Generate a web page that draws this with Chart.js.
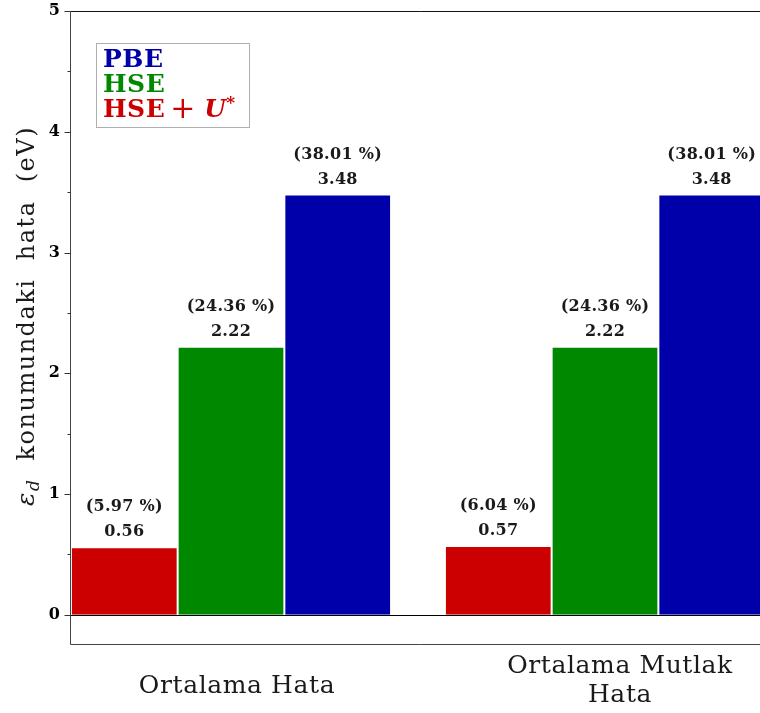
<!DOCTYPE html>
<html>
<head>
<meta charset="utf-8">
<script src="https://cdn.jsdelivr.net/npm/chart.js@4.4.1/dist/chart.umd.min.js"></script>
<style>
  html, body { margin: 0; padding: 0; background: #fff; overflow: hidden; }
  #wrap { position: absolute; left: 0; top: 0; width: 800px; height: 713px; }
</style>
</head>
<body>
<div id="wrap"><canvas id="errChart" width="800" height="713"></canvas></div>
<script>
// data
const groupLabels = [['Ortalama Hata'], ['Ortalama Mutlak', 'Hata']];
const groupPos = [0, 1];
const hseUVals = [0.56, 0.57];
const hseUPct = [5.97, 6.04];
const hseVals = [2.22, 2.22];
const hsePct = [24.36, 24.36];
const pbeVals = [3.48, 3.48];
const pbePct = [38.01, 38.01];
const yMajor = [0, 1, 2, 3, 4, 5];
const yMinor = [0.5, 1.5, 2.5, 3.5, 4.5];

const RED = '#cc0000', GREEN = '#008800', BLUE = '#0000aa';
const serif = '"DejaVu Serif", "Liberation Serif", serif';

const toPoints = vals => vals.map((v, i) => ({ x: groupPos[i], y: v }));

// zero line, frame and tick marks
const frame = {
  id: 'frame',
  beforeDatasetsDraw(chart) {
    const { ctx, chartArea: a, scales: { y } } = chart;
    const y0 = Math.round(y.getPixelForValue(0)) + 0.5;
    ctx.save();
    ctx.strokeStyle = '#000';
    ctx.lineWidth = 1;
    ctx.beginPath();
    ctx.moveTo(a.left, y0);
    ctx.lineTo(a.right, y0);
    ctx.stroke();
    ctx.restore();
  },
  afterDatasetsDraw(chart) {
    const { ctx, chartArea: a, scales: { y } } = chart;
    const l = Math.round(a.left) - 0.5, t = Math.round(a.top) + 0.5, b = Math.round(a.bottom) - 0.5;
    ctx.save();
    ctx.lineWidth = 1;
    ctx.strokeStyle = '#111';
    ctx.beginPath(); ctx.moveTo(l, t); ctx.lineTo(a.right + 5, t); ctx.stroke();
    ctx.strokeStyle = '#444';
    ctx.beginPath(); ctx.moveTo(l, t); ctx.lineTo(l, b); ctx.lineTo(a.right + 5, b); ctx.stroke();
    ctx.strokeStyle = '#333';
    yMajor.forEach(v => {
      const p = Math.round(y.getPixelForValue(v)) + 0.5;
      ctx.beginPath(); ctx.moveTo(l - 6, p); ctx.lineTo(l, p); ctx.stroke();
    });
    yMinor.forEach(v => {
      const p = Math.round(y.getPixelForValue(v)) + 0.5;
      ctx.beginPath(); ctx.moveTo(l - 3, p); ctx.lineTo(l, p); ctx.stroke();
    });
    ctx.restore();
  }
};

// value and percentage above each bar
const barNotes = {
  id: 'barNotes',
  afterDatasetsDraw(chart) {
    const { ctx } = chart;
    ctx.save();
    ctx.font = 'bold 16px ' + serif;
    ctx.letterSpacing = '0.3px';
    ctx.fillStyle = '#1a1a1a';
    ctx.textAlign = 'center';
    ctx.textBaseline = 'middle';
    chart.data.datasets.forEach((ds, d) => {
      chart.getDatasetMeta(d).data.forEach((bar, i) => {
        const v = ds.data[i].y;
        ctx.fillText(v.toFixed(2), bar.x, bar.y - 15);
        ctx.fillText('(' + ds.pct[i].toFixed(2) + ' %)', bar.x, bar.y - 40);
      });
    });
    ctx.restore();
  }
};

// category labels under the axis
const groupNames = {
  id: 'groupNames',
  afterDraw(chart) {
    const { ctx, scales: { x } } = chart;
    const nudge = [6, 15];
    ctx.save();
    ctx.font = '25px ' + serif;
    ctx.letterSpacing = '0.6px';
    ctx.fillStyle = '#1a1a1a';
    ctx.textAlign = 'center';
    ctx.textBaseline = 'alphabetic';
    groupLabels.forEach((lines, i) => {
      const cx = x.getPixelForValue(groupPos[i]) + nudge[i];
      const base = lines.length === 1 ? 693 : 673;
      lines.forEach((s, k) => ctx.fillText(s, cx, base + k * 29));
    });
    ctx.restore();
  }
};

// y axis title with epsilon_d
const yTitle = {
  id: 'yTitle',
  afterDraw(chart) {
    const { ctx } = chart;
    const parts = [
      { t: '\u03b5', f: 'italic 25px ' + serif, dy: 0 },
      { t: 'd', f: 'italic 17px ' + serif, dy: 5 },
      { t: '  konumundaki  hata  (eV)', f: '24px ' + serif, dy: 0 }
    ];
    ctx.save();
    ctx.letterSpacing = '1.5px';
    let total = 0;
    parts.forEach(p => { ctx.font = p.f; p.w = ctx.measureText(p.t).width; total += p.w; });
    ctx.translate(34, 316);
    ctx.rotate(-Math.PI / 2);
    ctx.fillStyle = '#1a1a1a';
    ctx.textBaseline = 'alphabetic';
    let xx = -total / 2;
    parts.forEach(p => { ctx.font = p.f; ctx.fillText(p.t, xx, p.dy); xx += p.w; });
    ctx.restore();
  }
};

// legend box: text only, coloured
const legendBox = {
  id: 'legendBox',
  afterDraw(chart) {
    const { ctx } = chart;
    ctx.save();
    ctx.fillStyle = 'rgba(255,255,255,0.9)';
    ctx.fillRect(96.5, 43.5, 153, 84);
    ctx.strokeStyle = '#b0b0b0';
    ctx.lineWidth = 1;
    ctx.strokeRect(96.5, 43.5, 153, 84);
    ctx.textBaseline = 'alphabetic';
    ctx.letterSpacing = '0.5px';
    ctx.font = 'bold 25px ' + serif;
    ctx.fillStyle = BLUE;
    ctx.fillText('PBE', 103, 67);
    ctx.fillStyle = GREEN;
    ctx.fillText('HSE', 103, 92);
    ctx.fillStyle = RED;
    let xx = 103;
    ctx.fillText('HSE', xx, 117); xx += ctx.measureText('HSE').width + 5;
    ctx.letterSpacing = '0px';
    ctx.font = '30px ' + serif;
    ctx.fillText('+', xx, 118); xx += ctx.measureText('+').width + 9;
    ctx.font = 'italic bold 25px ' + serif;
    ctx.fillText('U', xx, 117); xx += ctx.measureText('U').width;
    ctx.font = 'bold 17px ' + serif;
    ctx.fillText('*', xx, 108);
    ctx.restore();
  }
};

new Chart(document.getElementById('errChart'), {
  type: 'bar',
  data: {
    datasets: [
      { label: 'HSE + U*', data: toPoints(hseUVals), pct: hseUPct, backgroundColor: RED },
      { label: 'HSE', data: toPoints(hseVals), pct: hsePct, backgroundColor: GREEN },
      { label: 'PBE', data: toPoints(pbeVals), pct: pbePct, backgroundColor: BLUE }
    ]
  },
  options: {
    responsive: false,
    animation: false,
    events: [],
    layout: { padding: { left: 0, top: 11, right: 35, bottom: 68 } },
    datasets: {
      bar: { categoryPercentage: 0.856, barPercentage: 1, borderColor: '#fff', borderWidth: 1, borderSkipped: 'start' }
    },
    scales: {
      x: {
        type: 'linear',
        min: -0.4278,
        max: 1.4278,
        offset: false,
        bounds: 'data',
        display: false,
        afterBuildTicks: s => { s.ticks = groupPos.map(v => ({ value: v })); }
      },
      y: {
        min: -0.25,
        max: 5,
        afterBuildTicks: s => { s.ticks = yMajor.map(v => ({ value: v })); },
        afterFit: s => { s.width = 71; s.paddingTop = 0; s.paddingBottom = 0; },
        grid: { display: false, drawTicks: false },
        border: { display: false },
        ticks: { color: '#000', padding: 11, font: { family: serif, size: 16, weight: 'bold' } }
      }
    },
    plugins: { legend: { display: false }, tooltip: { enabled: false } }
  },
  plugins: [frame, barNotes, groupNames, yTitle, legendBox]
});
</script>
</body>
</html>
